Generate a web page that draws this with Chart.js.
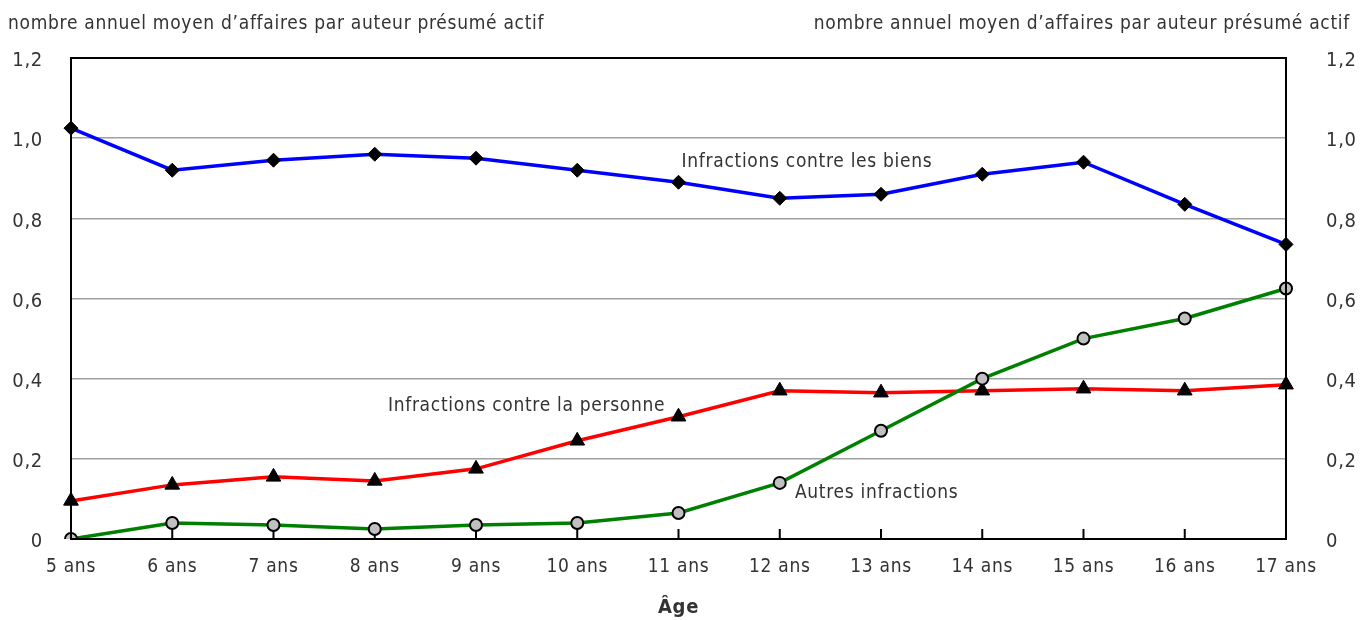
<!DOCTYPE html>
<html>
<head>
<meta charset="utf-8">
<script src="https://cdn.jsdelivr.net/npm/chart.js@4.4.1/dist/chart.umd.min.js"></script>
<style>
  html, body { margin: 0; padding: 0; background: #fff; }
  #wrap { width: 1369px; height: 620px; position: relative; }
</style>
</head>
<body>
<div id="wrap"><canvas id="chart"></canvas></div>
<script>
const ages = ['5 ans','6 ans','7 ans','8 ans','9 ans','10 ans','11 ans','12 ans','13 ans','14 ans','15 ans','16 ans','17 ans'];
const biens = [1.025, 0.92, 0.945, 0.96, 0.95, 0.92, 0.89, 0.85, 0.86, 0.91, 0.94, 0.835, 0.735];
const personne = [0.095, 0.135, 0.155, 0.145, 0.175, 0.245, 0.305, 0.37, 0.365, 0.37, 0.375, 0.37, 0.385];
const autres = [0.0, 0.04, 0.035, 0.025, 0.035, 0.04, 0.065, 0.14, 0.27, 0.40, 0.50, 0.55, 0.625];
const yTickLabels = ['0', '0,2', '0,4', '0,6', '0,8', '1,0', '1,2'];
const unitLabel = 'nombre annuel moyen d\u2019affaires par auteur présumé actif';

const FONT = "'DejaVu Sans Condensed', 'Liberation Sans Narrow', sans-serif";
const TXT = '#333';
const SPACING = '0.7px';

// series names written next to the lines: [text, category index, value]
const seriesLabels = [
  ['Infractions contre les biens', 6.03, 0.94],
  ['Infractions contre la personne', 3.13, 0.332],
  ['Autres infractions', 7.15, 0.115]
];

const frame = {
  id: 'frame',
  beforeDraw(chart) { chart.ctx.letterSpacing = SPACING; },
  afterDraw(chart) {
    const { ctx, chartArea: a, scales } = chart;
    ctx.save();
    ctx.letterSpacing = SPACING;
    ctx.strokeStyle = '#000';
    ctx.lineWidth = 2;
    ctx.strokeRect(a.left, a.top, a.right - a.left, a.bottom - a.top);
    ctx.font = '19px ' + FONT;
    ctx.fillStyle = TXT;
    ctx.textBaseline = 'alphabetic';
    ctx.textAlign = 'left';
    ctx.fillText(unitLabel, 8, 29);
    ctx.textAlign = 'right';
    ctx.fillText(unitLabel, 1350, 29);
    ctx.textAlign = 'left';
    ctx.textBaseline = 'middle';
    seriesLabels.forEach(([t, i, v]) => {
      ctx.fillText(t, scales.x.getPixelForValue(i), scales.y.getPixelForValue(v));
    });
    ctx.restore();
  },
  beforeDatasetsDraw(chart) {
    // small inward ticks on the category axis
    const { ctx, chartArea: a, scales } = chart;
    ctx.save();
    ctx.strokeStyle = '#000';
    ctx.lineWidth = 2;
    ages.forEach((_, i) => {
      const x = scales.x.getPixelForValue(i);
      ctx.beginPath();
      ctx.moveTo(x, a.bottom);
      ctx.lineTo(x, a.bottom - 10);
      ctx.stroke();
    });
    ctx.restore();
  }
};

new Chart(document.getElementById('chart'), {
  type: 'line',
  data: {
    labels: ages,
    datasets: [
      {
        label: 'Infractions contre les biens', data: biens, order: 2,
        borderColor: '#0000ff', borderWidth: 3.5,
        pointStyle: 'rectRot', pointRadius: 7, pointBackgroundColor: '#000', pointBorderColor: '#000', pointBorderWidth: 1
      },
      {
        label: 'Infractions contre la personne', data: personne, order: 1,
        borderColor: '#ff0000', borderWidth: 3.5,
        pointStyle: 'triangle', pointRadius: 8.5, pointBackgroundColor: '#000', pointBorderColor: '#000', pointBorderWidth: 1
      },
      {
        label: 'Autres infractions', data: autres, order: 0,
        borderColor: '#008000', borderWidth: 3.5,
        pointStyle: 'circle', pointRadius: 6, pointBackgroundColor: '#c0c0c0', pointBorderColor: '#000', pointBorderWidth: 2
      }
    ]
  },
  options: {
    responsive: true,
    maintainAspectRatio: false,
    animation: false,
    layout: { padding: { top: 58, left: 0, right: 0, bottom: 0 } },
    plugins: { legend: { display: false }, tooltip: { enabled: false } },
    scales: {
      x: {
        offset: false,
        grid: { display: false, drawTicks: false },
        border: { display: false },
        ticks: { color: TXT, font: { family: FONT, size: 19 }, padding: 17, maxRotation: 0, autoSkip: false },
        title: { display: true, text: 'Âge', color: TXT, font: { family: FONT, size: 20, weight: 'bold' }, padding: { top: 10, bottom: 0 } },
        afterFit(s) { s.height = 81; }
      },
      y: {
        position: 'left', min: 0, max: 1.2,
        grid: { color: '#a0a0a0', lineWidth: 1.5, drawTicks: false },
        border: { display: false },
        ticks: { stepSize: 0.2, color: TXT, font: { family: FONT, size: 20 }, padding: 28, labelOffset: 3,
                 callback: (v, i) => yTickLabels[i] },
        afterFit(s) { s.width = 71; }
      },
      y2: {
        position: 'right', min: 0, max: 1.2,
        grid: { display: false, drawTicks: false },
        border: { display: false },
        ticks: { stepSize: 0.2, color: TXT, font: { family: FONT, size: 20 }, padding: 40, labelOffset: 3,
                 callback: (v, i) => yTickLabels[i] },
        afterFit(s) { s.width = 83; }
      }
    }
  },
  plugins: [frame]
});
</script>
</body>
</html>
